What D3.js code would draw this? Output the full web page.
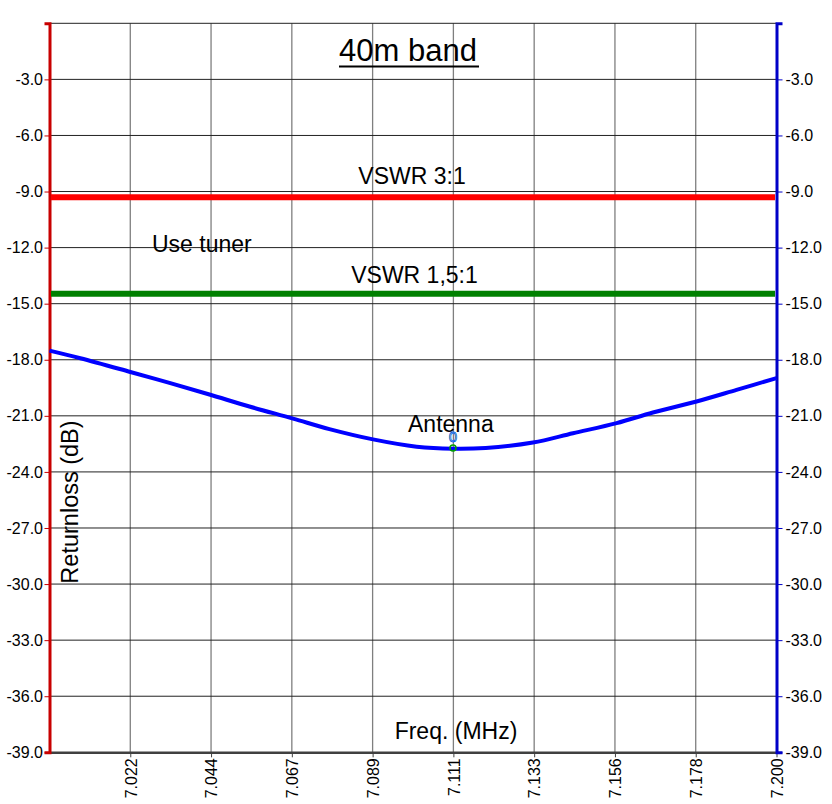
<!DOCTYPE html>
<html>
<head>
<meta charset="utf-8">
<style>
body { margin: 0; background: #fff; }
text { font-family: "Liberation Sans", Arial, sans-serif; }
</style>
</head>
<body>
</body>
<script src="https://d3js.org/d3.v7.min.js"></script>
<script>
// measured return loss of the antenna (MHz, dB)
var freqs = [7.000, 7.0085, 7.022, 7.033, 7.044, 7.055, 7.067, 7.077, 7.089, 7.101,
             7.111, 7.120, 7.133, 7.144, 7.156, 7.166, 7.178, 7.189, 7.200];
var returnLoss = [-17.51, -17.92, -18.64, -19.24, -19.86, -20.50, -21.15, -21.71, -22.26, -22.65,
                  -22.76, -22.72, -22.43, -21.93, -21.39, -20.82, -20.23, -19.61, -18.98];

// reference levels
var refNames = ["VSWR 3:1", "VSWR 1,5:1"];
var refLevels = [-9.31, -14.47];
var refColors = ["#ff0000", "#008000"];

// marker 0 on the curve
var markerFreq = 7.111;
var markerDb = -22.72;

// axis ticks
var dbTicks = [-39, -36, -33, -30, -27, -24, -21, -18, -15, -12, -9, -6, -3];
var freqTickLabels = ["7.022", "7.044", "7.067", "7.089", "7.111", "7.133", "7.156", "7.178", "7.200"];

var width = 832, height = 804;
// note: "top" is taken by window.top, so use plot* names
var plotLeft = 49.5, plotRight = 776.5, plotTop = 23.3, plotBottom = 752.3;
var tickFont = "16px";

var svg = d3.select("body").append("svg")
            .attr("width", width)
            .attr("height", height);

svg.append("rect").attr("width", width).attr("height", height).attr("fill", "#fff");

var x = d3.scaleLinear().domain([7.0, 7.2]).range([plotLeft, plotRight]);
var y = d3.scaleLinear().domain([-39, 0]).range([plotBottom, plotTop]);

// gridlines evenly split into 9 columns
var freqTicks = freqTickLabels.map(function (d, i) { return 7.0 + (i + 1) * 0.2 / 9; });

svg.append("g").selectAll("line")
   .data(freqTicks.slice(0, 8))
   .enter().append("line")
   .attr("x1", function (d) { return x(d); })
   .attr("x2", function (d) { return x(d); })
   .attr("y1", plotTop)
   .attr("y2", plotBottom)
   .attr("stroke", "#7f7f7f")
   .attr("stroke-width", 1.3);

svg.append("g").selectAll("line")
   .data(dbTicks.slice(1).concat([0]))
   .enter().append("line")
   .attr("x1", plotLeft)
   .attr("x2", plotRight)
   .attr("y1", function (d) { return y(d); })
   .attr("y2", function (d) { return y(d); })
   .attr("stroke", "#222")
   .attr("stroke-width", 1);

// bottom axis
var xAxis = svg.append("g")
   .attr("transform", "translate(0," + plotBottom + ")")
   .call(d3.axisBottom(x).tickValues(freqTicks)
           .tickFormat(function (d, i) { return freqTickLabels[i]; })
           .tickSize(5).tickSizeOuter(0));
xAxis.select(".domain").attr("stroke", "#404040").attr("stroke-width", 2.5);
xAxis.selectAll(".tick line").attr("stroke", "#404040");
xAxis.selectAll(".tick text")
     .attr("transform", "rotate(-90)")
     .attr("x", -6)
     .attr("y", 0)
     .attr("dy", "0.36em")
     .attr("text-anchor", "end")
     .attr("fill", "#000")
     .style("font-size", tickFont)
     .style("font-family", "Liberation Sans, Arial, sans-serif");

// left axis (red)
var yLeft = svg.append("g")
   .attr("transform", "translate(" + plotLeft + ",0)")
   .call(d3.axisLeft(y).tickValues(dbTicks)
           .tickFormat(function (d) { return d.toFixed(1); })
           .tickSize(5).tickPadding(1.5));
yLeft.select(".domain").attr("stroke", "#c80000").attr("stroke-width", 3);
yLeft.selectAll(".tick line").attr("stroke", "#c80000");
yLeft.selectAll(".tick text")
     .attr("fill", "#000")
     .style("font-size", tickFont)
     .style("font-family", "Liberation Sans, Arial, sans-serif");

// right axis (blue)
var yRight = svg.append("g")
   .attr("transform", "translate(" + plotRight + ",0)")
   .call(d3.axisRight(y).tickValues(dbTicks)
           .tickFormat(function (d) { return d.toFixed(1); })
           .tickSize(6).tickPadding(3));
yRight.select(".domain").attr("stroke", "#0000c8").attr("stroke-width", 3);
yRight.selectAll(".tick line").attr("stroke", "#0000c8");
yRight.selectAll(".tick text")
     .attr("fill", "#000")
     .style("font-size", tickFont)
     .style("font-family", "Liberation Sans, Arial, sans-serif");

// reference lines
svg.append("g").selectAll("line")
   .data(refLevels)
   .enter().append("line")
   .attr("x1", plotLeft + 1.5)
   .attr("x2", plotRight - 1.5)
   .attr("y1", function (d) { return y(d); })
   .attr("y2", function (d) { return y(d); })
   .attr("stroke", function (d, i) { return refColors[i]; })
   .attr("stroke-width", 6);

// antenna curve
var line = d3.line()
   .x(function (d, i) { return x(freqs[i]); })
   .y(function (d) { return y(d); })
   .curve(d3.curveCatmullRom);

svg.append("path")
   .datum(returnLoss)
   .attr("d", line)
   .attr("fill", "none")
   .attr("stroke", "#0000ff")
   .attr("stroke-width", 4);

// marker
svg.append("circle")
   .attr("cx", x(markerFreq))
   .attr("cy", y(markerDb))
   .attr("r", 3)
   .attr("fill", "none")
   .attr("stroke", "#00a000")
   .attr("stroke-width", 1.5);
svg.append("text")
   .attr("x", x(markerFreq))
   .attr("y", y(markerDb) - 6)
   .attr("text-anchor", "middle")
   .attr("fill", "#ffff00")
   .attr("stroke", "#0060ff")
   .attr("stroke-width", 0.8)
   .style("font-size", "15px")
   .text("0");

// texts
svg.append("text")
   .attr("x", 339)
   .attr("y", 61)
   .style("font-size", "31px")
   .text("40m band");
svg.append("line")
   .attr("x1", 339).attr("x2", 479)
   .attr("y1", 66.5).attr("y2", 66.5)
   .attr("stroke", "#000").attr("stroke-width", 2.2);

svg.append("text").attr("x", 412).attr("y", 184).attr("text-anchor", "middle")
   .style("font-size", "23px").text(refNames[0]);
svg.append("text").attr("x", 414.5).attr("y", 283).attr("text-anchor", "middle")
   .style("font-size", "23px").text(refNames[1]);
svg.append("text").attr("x", 152).attr("y", 252)
   .style("font-size", "23px").text("Use tuner");
svg.append("text").attr("x", 408).attr("y", 432)
   .style("font-size", "23px").text("Antenna");
svg.append("text").attr("x", 456).attr("y", 739).attr("text-anchor", "middle")
   .style("font-size", "23px").text("Freq. (MHz)");
svg.append("text")
   .attr("transform", "translate(78,502) rotate(-90)")
   .attr("text-anchor", "middle")
   .style("font-size", "23.5px")
   .text("Returnloss (dB)");
</script>
</html>
